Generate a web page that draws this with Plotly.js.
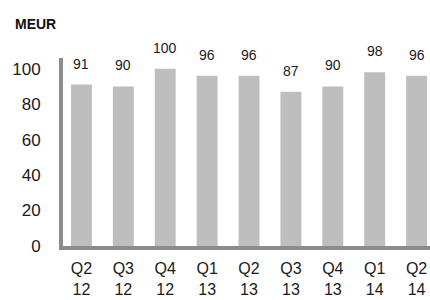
<!DOCTYPE html>
<html><head><meta charset="utf-8">
<script src="https://cdn.plot.ly/plotly-3.0.1.min.js"></script>
<style>html,body{margin:0;padding:0;background:#fff}#chart{width:430px;height:300px}</style>
</head><body><div id="chart"></div>
<script>
const quarters = ["Q2<br>12","Q3<br>12","Q4<br>12","Q1<br>13","Q2<br>13","Q3<br>13","Q4<br>13","Q1<br>14","Q2<br>14"];
const values = [91, 90, 100, 96, 96, 87, 90, 98, 96];
const yTicks = [0, 20, 40, 60, 80, 100];
const unitLabel = "MEUR";

const xIdx = quarters.map((_, i) => i);
const trace = {
  type: 'bar', x: xIdx, y: values,
  width: 0.5,
  marker: {color: '#bebebf', line: {width: 0}},
  hoverinfo: 'none'
};
const annotations = values.map((v, i) => ({
  x: i, y: v, xref: 'x', yref: 'y', text: String(v), showarrow: false,
  yanchor: 'bottom', yshift: 11,
  font: {family: 'Liberation Sans, Arial, sans-serif', size: 14, color: '#1a1a1a'}
}));
annotations.push({
  xref: 'paper', yref: 'paper', x: -50/367, y: 1, xanchor: 'left', yanchor: 'bottom', yshift: 24,
  text: '<b>' + unitLabel + '</b>', showarrow: false,
  font: {family: 'Liberation Sans, Arial, sans-serif', size: 14, color: '#111'}
});
const layout = {
  width: 430, height: 300,
  margin: {l: 63, r: 0, t: 58, b: 54, pad: 0},
  paper_bgcolor: '#fff', plot_bgcolor: '#fff',
  showlegend: false,
  font: {family: 'Liberation Sans, Arial, sans-serif', size: 17, color: '#1a1a1a'},
  xaxis: {
    range: [-0.44, 8.32], tickmode: 'array', tickvals: xIdx, ticktext: quarters,
    tickfont: {size: 16},
    showgrid: false, zeroline: false, showline: true, linecolor: '#8c8c8c', linewidth: 4,
    ticks: 'outside', ticklen: 5, tickcolor: 'rgba(0,0,0,0)', fixedrange: true
  },
  yaxis: {
    range: [0, 106], tickmode: 'array', tickvals: yTicks,
    showgrid: false, zeroline: false, showline: true, linecolor: '#8c8c8c', linewidth: 4,
    ticks: 'outside', ticklen: 15, tickcolor: 'rgba(0,0,0,0)', fixedrange: true
  },
  annotations: annotations
};
Plotly.newPlot('chart', [trace], layout, {staticPlot: true, displayModeBar: false});
</script></body></html>
